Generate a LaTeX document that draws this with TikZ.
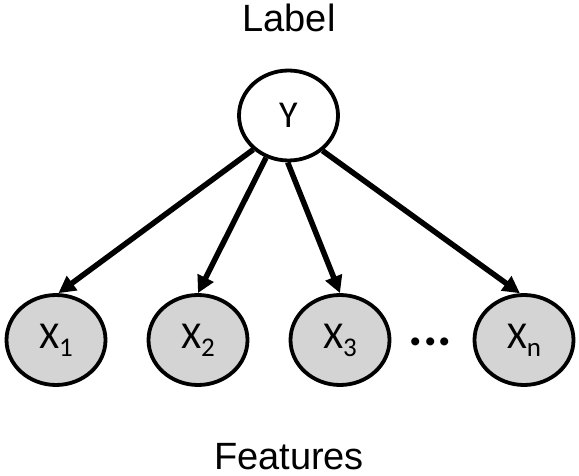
\documentclass[tikz,border=0pt]{standalone}
\usepackage{fontspec}
\setmainfont{Liberation Sans}
\newfontfamily\calib{Carlito}
\usetikzlibrary{shapes.geometric,arrows.meta}
\definecolor{nodegray}{RGB}{212,212,212}
\newcommand{\xsub}[1]{X\raisebox{-8pt}{\fontsize{27}{27}\selectfont #1}}
\begin{document}
\begin{tikzpicture}[x=1pt,y=-1pt,
  varnode/.style={ellipse,draw=black,line width=3.8pt,inner sep=0pt,
    minimum width=99pt,minimum height=90pt,
    font=\calib\fontsize{38}{40}\selectfont},
  feat/.style={varnode,fill=nodegray},
  edge/.style={line width=5.5pt,-{Triangle[length=17pt,width=17pt]}},
  caption/.style={font=\fontsize{38}{40}\selectfont,anchor=base,inner sep=0pt}]
\useasboundingbox (0,0) rectangle (579,476);
\node[caption] (lab) at (289,32) {Label};
\node[caption] (feats) at (289,469) {Features};
\node[varnode,fill=white] (Y) at (288.5,115.5) {Y};
\node[feat] (X1) at (56,340) {\xsub{1}};
\node[feat] (X2) at (198,340) {\xsub{2}};
\node[feat] (X3) at (340,340) {\xsub{3}};
\node[feat] (Xn) at (524,340) {\xsub{n}};
\node[font=\calib\bfseries\fontsize{54}{56}\selectfont,anchor=base,inner sep=0pt] (dots) at (430.5,345.5) {...};
\draw[edge] (Y.-136) -- (X1.87);
\draw[edge] (Y.-118) -- (X2.north);
\draw[edge] (Y.-91) -- (X3.north);
\draw[edge] (Y.-46) -- (Xn.95);
\end{tikzpicture}
\end{document}
